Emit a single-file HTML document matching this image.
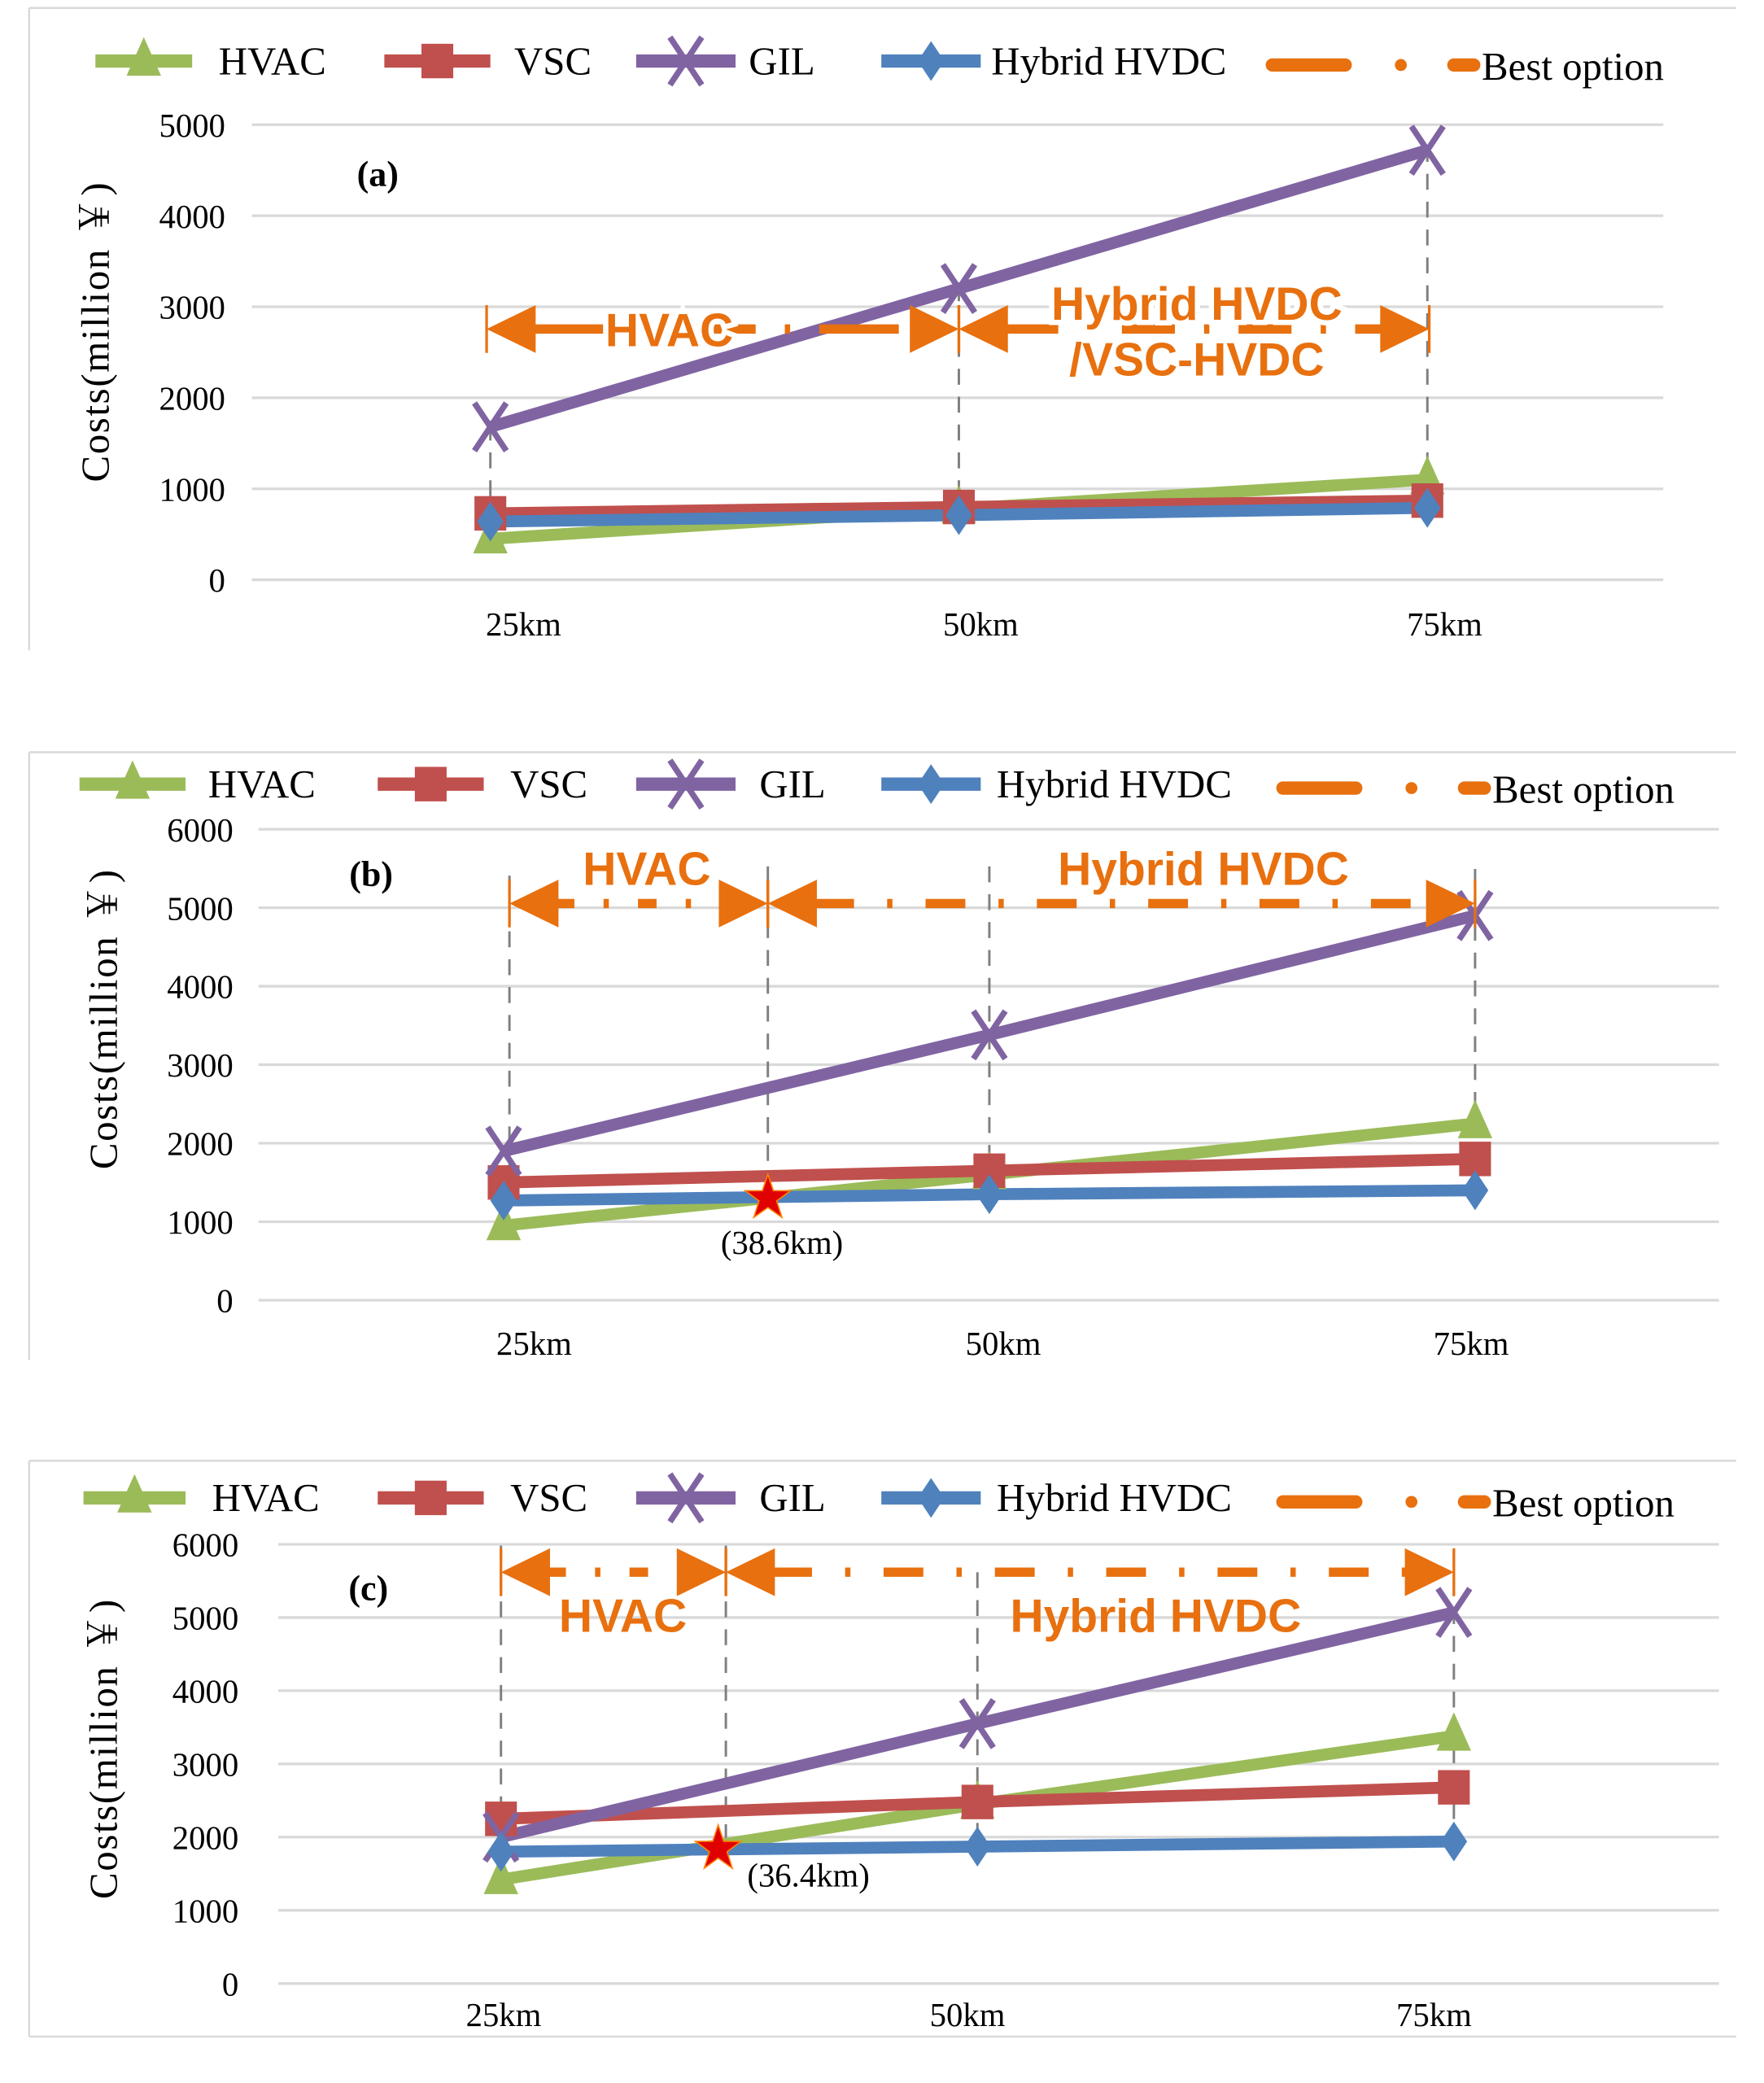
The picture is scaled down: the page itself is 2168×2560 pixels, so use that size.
<!DOCTYPE html>
<html><head><meta charset="utf-8"><style>
html,body{margin:0;padding:0;background:#fff;}
svg{display:block;}
text{font-family:"Liberation Serif","Noto Serif CJK SC",serif;}
.or{font-family:"Liberation Sans",sans-serif;font-weight:bold;fill:#e8700f;}
</style></head><body>
<svg id="chart" width="2168" height="2560" viewBox="0 0 1331 1570" preserveAspectRatio="none" xmlns="http://www.w3.org/2000/svg"></svg>
<script>
const categories = ["25km","50km","75km"];
const distances = [25,50,75];
const seriesNames = ["HVAC","VSC","GIL","Hybrid HVDC"];
const aHVAC = [450,780,1100];
const aVSC = [730,800,870];
const aGIL = [1680,3200,4720];
const aHybrid = [640,710,790];
const bHVAC = [950,1600,2250];
const bVSC = [1500,1650,1800];
const bGIL = [1900,3380,4900];
const bHybrid = [1270,1350,1400];
const cHVAC = [1420,2450,3380];
const cVSC = [2250,2480,2680];
const cGIL = [2000,3550,5070];
const cHybrid = [1800,1870,1940];
const aTicks = [0,1000,2000,3000,4000,5000];
const bTicks = [0,1000,2000,3000,4000,5000,6000];
const cTicks = [0,1000,2000,3000,4000,5000,6000];
const bCross = [38.6,1300];
const cCross = [36.4,1840];

const NS="http://www.w3.org/2000/svg";
const svg=document.getElementById('chart');
function mk(tag,attrs,parent,txt){const e=document.createElementNS(NS,tag);for(const k in attrs)e.setAttribute(k,attrs[k]);if(txt!==undefined)e.textContent=txt;(parent||svg).appendChild(e);return e;}
const colors=["#9bbb59","#c0504d","#8064a2","#4f81bd"];

function marker(g,i,x,y){
  const c=colors[i];let m;
  if(i===0)m=mk('polygon',{points:`${x},${y-18} ${x-13},${y+11} ${x+13},${y+11}`,fill:c},g);
  else if(i===1)m=mk('rect',{x:x-12,y:y-13,width:24,height:26,fill:c},g);
  else if(i===2){m=mk('path',{d:`M${x-12},${y-18}L${x+12},${y+18}M${x+12},${y-18}L${x-12},${y+18}`,stroke:c,'stroke-width':4.5,fill:'none'},g);}
  else m=mk('polygon',{points:`${x},${y-15} ${x+10},${y} ${x},${y+15} ${x-10},${y}`,fill:c},g);
  
  
}

function panel(p){
  const g=mk('g',{});
  
  
  mk('line',{x1:22,y1:p.frameTop,x2:22,y2:p.frameBot,stroke:'#d9d9d9','stroke-width':1.5},g);
  mk('line',{x1:22,y1:p.frameTop,x2:1310,y2:p.frameTop,stroke:'#d9d9d9','stroke-width':1.5},g);
  if(p.bottomLine)mk('line',{x1:22,y1:p.frameBot,x2:1310,y2:p.frameBot,stroke:'#d9d9d9','stroke-width':1.5},g);
  const yS=v=>p.y0+(p.yTop-p.y0)*v/p.tickMax;
  const xS=d=>p.x25+(p.x75-p.x25)*(d-25)/50;
  p.ticks.forEach(t=>{
    const gl=mk('line',{x1:p.gx1,x2:p.gx2,y1:yS(t),y2:yS(t),stroke:'#d9d9d9','stroke-width':2},g);
    
    const tl=mk('text',{x:p.tickX,y:yS(t)+p.tickDy,'text-anchor':'end','font-size':25},g,String(t));
    
  });
  categories.forEach((c,i)=>{
    const t=mk('text',{x:p.catX[i],y:p.catY,'text-anchor':'middle','font-size':25},g,c);
    
  });
  const yl=mk('text',{x:0,y:0,transform:`translate(${p.ylX},${p.ylY}) rotate(-90)`,'text-anchor':'middle','font-size':30,'letter-spacing':'1'},g,'Costs(million ￥)');
  
  const pl=mk('text',{x:p.lblX,y:p.lblY,'font-size':27,'font-weight':'bold','text-anchor':'middle'},g,'('+p.id+')');
  
  p.vlines.forEach(v=>{
    const l=mk('line',{x1:xS(v[0]),x2:xS(v[0]),y1:v[1],y2:v[2],stroke:'#7f7f7f','stroke-width':1.8,'stroke-dasharray':'12,9'},g);
    
  });
  p.series.forEach((vals,i)=>{
    const pts=vals.map((v,j)=>xS(distances[j])+','+yS(v)).join(' ');
    const pl2=mk('polyline',{points:pts,fill:'none',stroke:colors[i],'stroke-width':9,'stroke-linejoin':'round'},g);
    
    
  });
  p.series.forEach((vals,i)=>vals.forEach((v,j)=>marker(g,i,xS(distances[j]),yS(v))));
  const ay=p.arrowY;
  p.segs.forEach(s=>{
    const x1=xS(s[0]),x2=xS(s[1]);
    const ln=mk('line',{x1:x1+35,x2:x2-35,y1:ay,y2:ay,stroke:'#e8700f','stroke-width':7,'stroke-dasharray':s[2]},g);
    
    const a1=mk('polygon',{points:`${x1},${ay} ${x1+37},${ay-18} ${x1+37},${ay+18}`,fill:'#e8700f'},g);
    
    const a2=mk('polygon',{points:`${x2},${ay} ${x2-37},${ay-18} ${x2-37},${ay+18}`,fill:'#e8700f'},g);
    
    mk('line',{x1:x1,x2:x1,y1:ay-18,y2:ay+18,stroke:'#e8700f','stroke-width':2},g);
    mk('line',{x1:x2,x2:x2,y1:ay-18,y2:ay+18,stroke:'#e8700f','stroke-width':2},g);
  });
  p.oLabels.forEach(o=>{
    const attrs={x:o[0],y:o[1],'text-anchor':'middle','font-size':35,class:'or'};
    if(p.halo){attrs.stroke='#fff';attrs['stroke-width']=8;attrs['paint-order']='stroke';}
    const t=mk('text',attrs,g,o[2]);
    
  });
  if(p.cross){
    const cx=xS(p.cross[0]),cy=yS(p.cross[1]);let pts=[];
    for(let k=0;k<10;k++){const r=k%2?7:18,a=-Math.PI/2+k*Math.PI/5;pts.push((cx+r*Math.cos(a)).toFixed(1)+','+(cy+r*Math.sin(a)).toFixed(1));}
    const st=mk('polygon',{points:pts.join(' '),fill:'#e00000',stroke:'#ff8000','stroke-width':1},g);
    
    const ct=mk('text',{x:p.crossLbl[0],y:p.crossLbl[1],'text-anchor':'middle','font-size':25},g,'('+p.cross[0]+'km)');
    
  }
  const lg=mk('g',{},g);
  
  const L=p.leg;
  seriesNames.forEach((n,i)=>{
    const e=mk('g',{},lg);
    
    
    mk('line',{x1:L.lx[i][0],x2:L.lx[i][1],y1:L.y,y2:L.y,stroke:colors[i],'stroke-width':10},e);
    marker(e,i,(L.lx[i][0]+L.lx[i][1])/2,L.y);
    mk('text',{x:L.tx[i],y:L.y+10,'font-size':30},e,n);
  });
  const be=mk('g',{},lg);
  
  
  mk('line',{x1:L.bx,x2:L.bx+55,y1:L.y+3,y2:L.y+3,stroke:'#e8700f','stroke-width':10,'stroke-linecap':'round'},be);
  mk('circle',{cx:L.bx+97,cy:L.y+3,r:4.5,fill:'#e8700f'},be);
  mk('line',{x1:L.bx+137,x2:L.bx+152,y1:L.y+3,y2:L.y+3,stroke:'#e8700f','stroke-width':10,'stroke-linecap':'round'},be);
  mk('text',{x:L.bx+158,y:L.y+14,'font-size':30},be,'Best option');
}

panel({id:'a',frameTop:6,frameBot:490,bottomLine:false,y0:437,yTop:94,tickMax:5000,ticks:aTicks,gx1:190,gx2:1255,tickX:170,tickDy:9,
  x25:370,x75:1077,catX:[395,740,1090],catY:479,ylX:82,ylY:250,lblX:285,lblY:140,halo:true,
  vlines:[[25,320,395],[50,215,392],[75,110,385]],
  series:[aHVAC,aVSC,aGIL,aHybrid],arrowY:248,
  segs:[[24.8,50,'60,22,4,22'],[50,75.1,'40,22,4,22']],
  oLabels:[[505,261,'HVAC'],[903,241,'Hybrid HVDC'],[903,283,'/VSC-HVDC']],
  leg:{y:46,lx:[[72,145],[290,370],[480,555],[665,740]],tx:[165,388,565,748],bx:960}});
panel({id:'b',frameTop:567,frameBot:1025,bottomLine:false,y0:980,yTop:625,tickMax:6000,ticks:bTicks,gx1:195,gx2:1297,tickX:176,tickDy:9,
  x25:380,x75:1113,catX:[403,757,1110],catY:1021,ylX:88,ylY:768,lblX:280,lblY:668,
  vlines:[[25.3,660,905],[38.6,653,903],[50,653,900],[75,655,895]],
  series:[bHVAC,bVSC,bGIL,bHybrid],arrowY:681,cross:bCross,crossLbl:[590,945],
  segs:[[25.3,38.6,'14,22,4,22'],[38.6,75,'30,25,4,25']],
  oLabels:[[488,667,'HVAC'],[908,667,'Hybrid HVDC']],
  leg:{y:591,lx:[[60,140],[285,365],[480,555],[665,740]],tx:[157,385,573,752],bx:968}});
panel({id:'c',frameTop:1101,frameBot:1535,bottomLine:true,y0:1495,yTop:1164,tickMax:6000,ticks:cTicks,gx1:210,gx2:1297,tickX:180,tickDy:9,
  x25:378,x75:1097,catX:[380,730,1082],catY:1527,ylX:88,ylY:1318,lblX:278,lblY:1206,
  vlines:[[25,1165,1395],[36.8,1165,1390],[50,1185,1385],[75,1170,1390]],
  series:[cHVAC,cVSC,cGIL,cHybrid],arrowY:1185,cross:cCross,crossLbl:[610,1422],
  segs:[[25,36.8,'14,22,4,22'],[36.8,75,'30,25,4,25']],
  oLabels:[[470,1230,'HVAC'],[872,1230,'Hybrid HVDC']],
  leg:{y:1129,lx:[[63,140],[285,365],[480,555],[665,740]],tx:[160,385,573,752],bx:968}});
</script>
</body></html>
